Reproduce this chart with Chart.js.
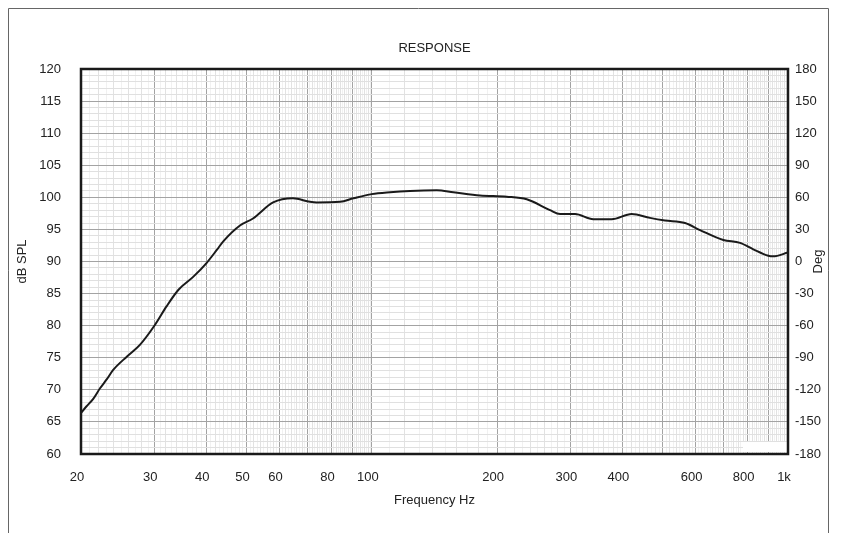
<!DOCTYPE html>
<html>
<head>
<meta charset="utf-8">
<script src="https://cdn.jsdelivr.net/npm/chart.js@4.4.1/dist/chart.umd.min.js"></script>
<style>
  html, body { margin: 0; padding: 0; background: #fff; }
  #wrap { width: 841px; height: 533px; }
</style>
</head>
<body>
<div id="wrap"><canvas id="resp" width="841" height="533"></canvas></div>
<script>
// 주파수 응답 데이터
const freqHz = [20, 20.6, 21.4, 22.2, 23.1, 23.9, 25.8, 27.7, 30.1, 32.1, 34.3, 37.2, 40.1, 42.4, 43.9, 48.2,
  51.8, 57.9, 64.6, 71.0, 73.7, 83.9, 90.3, 99.9, 110.6, 123.5, 143.2, 157, 181.9, 210.9, 235.6, 268,
  283.3, 307.8, 340.5, 377, 421, 465.9, 506.3, 565.6, 614.6, 699.2, 766.8, 825.3, 896.8, 920.4, 1000];
const splDb = [66.4, 67.4, 68.6, 70.2, 71.7, 73.1, 75.2, 77.0, 80.1, 83.0, 85.6, 87.6, 89.8, 91.8, 93.1, 95.6,
  96.7, 99.2, 99.85, 99.3, 99.2, 99.3, 99.85, 100.5, 100.8, 101.0, 101.1, 100.8, 100.3, 100.1, 99.7, 98.0,
  97.4, 97.4, 96.6, 96.6, 97.4, 96.8, 96.4, 96.0, 94.9, 93.35, 92.9, 91.9, 90.9, 90.8, 91.4];

// 축 눈금
const freqLabels = { 20: '20', 30: '30', 40: '40', 50: '50', 60: '60', 80: '80', 100: '100',
  200: '200', 300: '300', 400: '400', 600: '600', 800: '800', 1000: '1k' };
const splMin = 60, splMax = 120;
const degMin = -180, degMax = 180, degStep = 30;

// 격자선 값 (1 Hz / 10 Hz 간격)
const freqGrid = [];
for (let f = 20; f <= 100; f += 1) freqGrid.push(f);
for (let f = 110; f <= 1000; f += 10) freqGrid.push(f);
const splGrid = [];
for (let v = splMin; v <= splMax; v += 1) splGrid.push(v);

function freqGridColor(v) {
  if (v <= 100) {
    if (v % 10 === 0) return '#a3a3a3';
    if (v % 2 === 0) return '#e2e2e2';
    return '#f1f1f1';
  }
  if (v % 100 === 0) return '#a3a3a3';
  if (v % 20 === 0) return '#e2e2e2';
  return '#f1f1f1';
}

const FONT = { family: '"Liberation Sans", Arial, sans-serif', size: 13 };

// 바깥 테두리, 플롯 테두리, Deg 축 제목
const framePlugin = {
  id: 'frame',
  beforeDraw(chart) {
    const ctx = chart.ctx;
    ctx.save();
    ctx.fillStyle = '#fff';
    ctx.fillRect(0, 0, chart.width, chart.height);
    ctx.strokeStyle = '#666';
    ctx.lineWidth = 1;
    ctx.beginPath();
    ctx.moveTo(8.5, 533);
    ctx.lineTo(8.5, 8.5);
    ctx.lineTo(828.5, 8.5);
    ctx.lineTo(828.5, 533);
    ctx.stroke();
    ctx.restore();
  },
  afterDraw(chart) {
    const ctx = chart.ctx;
    const a = chart.chartArea;
    ctx.save();
    // 범례 자리의 흰 상자
    ctx.fillStyle = '#fff';
    ctx.fillRect(743, 442, 44, 10);
    ctx.strokeStyle = '#1a1a1a';
    ctx.lineWidth = 2.5;
    ctx.strokeRect(a.left, a.top, a.right - a.left, a.bottom - a.top);
    ctx.fillStyle = '#222';
    ctx.font = '13px "Liberation Sans", Arial, sans-serif';
    ctx.textAlign = 'center';
    ctx.textBaseline = 'middle';
    ctx.translate(818, (a.top + a.bottom) / 2);
    ctx.rotate(-Math.PI / 2);
    ctx.fillText('Deg', 0, 0);
    ctx.restore();
  }
};

new Chart(document.getElementById('resp'), {
  type: 'line',
  data: {
    datasets: [{
      label: 'SPL',
      data: freqHz.map((f, i) => ({ x: f, y: splDb[i] })),
      borderColor: '#1a1a1a',
      borderWidth: 2,
      pointRadius: 0,
      cubicInterpolationMode: 'monotone',
      yAxisID: 'y'
    }]
  },
  options: {
    responsive: false,
    animation: false,
    layout: { padding: { top: 41, left: 0, right: 0, bottom: 0 } },
    plugins: {
      legend: { display: false },
      tooltip: { enabled: false },
      title: {
        display: true,
        text: 'RESPONSE',
        fullSize: false,
        color: '#222',
        font: { ...FONT, weight: 'normal' },
        padding: { top: 0, bottom: 12.4 }
      }
    },
    scales: {
      x: {
        type: 'logarithmic',
        min: 20,
        max: 1000,
        afterBuildTicks: scale => { scale.ticks = freqGrid.map(v => ({ value: v })); },
        afterFit: scale => { scale.height = 79; },
        ticks: {
          autoSkip: false,
          maxRotation: 0,
          padding: 16,
          labelOffset: -4,
          color: '#222',
          font: FONT,
          callback: value => freqLabels[value] || ''
        },
        grid: {
          drawTicks: false,
          color: ctx => freqGridColor(ctx.tick ? ctx.tick.value : 0)
        },
        border: { display: false },
        title: { display: true, text: 'Frequency Hz', color: '#222', font: FONT, padding: { top: 0, bottom: 25 } }
      },
      y: {
        type: 'linear',
        position: 'left',
        min: splMin,
        max: splMax,
        afterBuildTicks: scale => { scale.ticks = splGrid.map(v => ({ value: v })); },
        afterFit: scale => { scale.width = 81; },
        ticks: {
          autoSkip: false,
          padding: 20,
          color: '#222',
          font: FONT,
          callback: value => (value % 5 === 0 ? String(value) : '')
        },
        grid: {
          drawTicks: false,
          color: ctx => (ctx.tick && ctx.tick.value % 5 === 0 ? '#a3a3a3' : '#e0e0e0')
        },
        border: { display: false },
        title: { display: true, text: 'dB SPL', color: '#222', font: FONT, padding: { top: 15, bottom: 0 } }
      },
      y2: {
        type: 'linear',
        position: 'right',
        min: degMin,
        max: degMax,
        afterFit: scale => { scale.width = 53; },
        ticks: { stepSize: degStep, padding: 7, color: '#222', font: FONT },
        grid: { display: false, drawTicks: false },
        border: { display: false }
      }
    }
  },
  plugins: [framePlugin]
});
</script>
</body>
</html>
